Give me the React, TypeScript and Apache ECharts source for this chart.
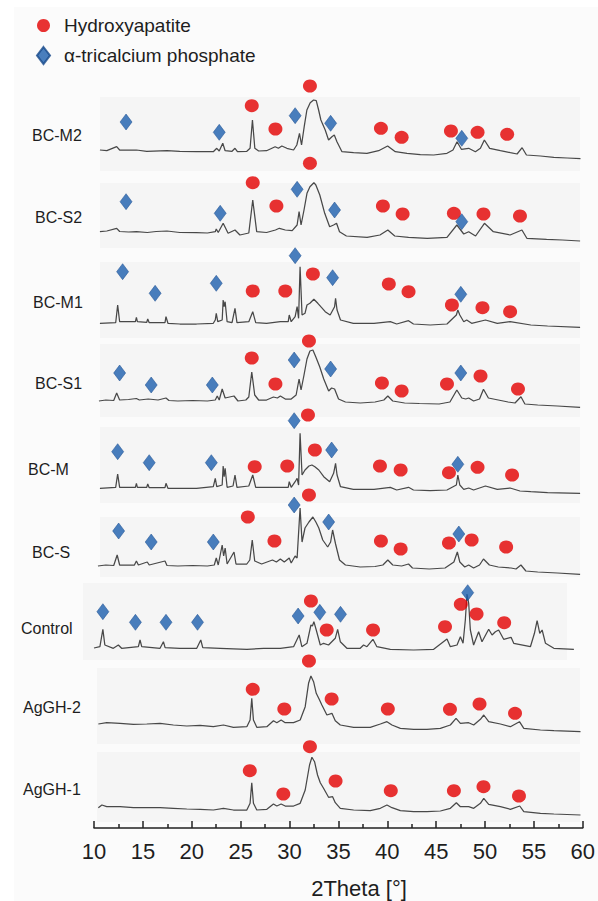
import React, { useEffect, useRef } from "react";
import * as echarts from "echarts";

// ---------- data ----------
const samples = ["BC-M2", "BC-S2", "BC-M1", "BC-S1", "BC-M", "BC-S", "Control", "AgGH-2", "AgGH-1"];
const phaseHA = "Hydroxyapatite";
const phaseTCP = "α-tricalcium phosphate";
const xTitle = "2Theta [°]";

// XRD patterns: [2θ, intensity (a.u.)]
const bcM2 = [[10.6,21],[11.3,20.3],[12.3,24.3],[12.6,21],[14.3,21],[15.35,19.7],[17.4,20.3],[18.7,19.7],[20.4,19.3],[22.1,19.3],[22.45,22.7],[22.7,20],[23.06,27.7],[23.3,20.3],[24.0,19.7],[24.3,22.7],[24.55,19.3],[25.5,19.7],[25.83,22.7],[26.07,51],[26.31,22.7],[26.7,20],[27.5,20.3],[28.37,24.3],[28.7,22.7],[29.05,25],[29.56,22.7],[30.24,21],[30.57,26],[30.84,37.7],[31.05,26],[31.32,44.3],[31.59,61],[31.93,68.3],[32.27,71],[32.54,70.3],[32.78,61],[33.01,51],[33.45,41],[33.79,31],[34.13,34.3],[34.37,36],[34.64,29.3],[35.15,19.3],[36.33,18.3],[37.68,17.7],[38.87,20.3],[39.78,25],[40.56,19.3],[41.75,17.7],[43.1,16.3],[44.45,16],[45.8,17.7],[46.41,21],[46.82,29.3],[47.26,21.7],[48.0,22.7],[48.68,19.3],[49.19,22.7],[49.59,31],[50.13,22.7],[51.22,20.3],[52.23,18.3],[52.91,17],[53.42,23.3],[53.86,16],[55.28,15],[56.64,13.7],[57.99,13],[59.34,12.3]];
const bcS2 = [[10.6,16.3],[11.3,17],[12.3,19.7],[12.6,16.5],[13.5,16],[14.3,16.3],[15.4,15.5],[16.3,16.5],[17.4,17],[18.7,15.5],[20.4,15.3],[21.5,15],[22.3,16.3],[22.4,19],[22.6,15.5],[23.1,24.7],[23.6,14.7],[24.3,18],[24.8,13],[25.7,15],[26.1,48],[26.5,16.3],[27.5,15.5],[28.4,18],[28.8,19.7],[29.4,18],[30.1,17.3],[30.6,23],[30.8,36.3],[31.0,23],[31.3,38],[31.6,54.7],[31.9,61.3],[32.3,65.3],[32.5,63],[32.9,53],[33.4,34.7],[33.9,21.3],[34.3,23],[34.6,24.7],[34.9,16.3],[35.6,12],[37.7,10.7],[39.0,13],[39.8,18],[40.5,12],[41.9,10.7],[43.8,9.7],[45.8,10.7],[46.8,23],[47.5,14],[48.0,16.3],[48.7,12],[49.6,24.7],[50.5,16.3],[52.2,13],[53.4,18],[53.9,9.7],[55.9,8.7],[57.5,8],[59.3,7]];
const bcM1 = [[10.6,14.7],[12.2,15.3],[12.4,33],[12.6,16.3],[14.2,16.3],[14.3,20.7],[14.4,16.3],[15.35,15.7],[15.45,19],[15.6,15.3],[17.2,15.3],[17.3,21.3],[17.5,14.7],[18.7,14],[20.4,14],[22.1,14.7],[22.3,18],[22.4,24.7],[22.55,16.3],[23.0,18],[23.1,38],[23.2,31.3],[23.3,36.3],[23.5,16.3],[24.0,15.3],[24.3,29.7],[24.5,15.3],[25.7,16.3],[26.1,26.3],[26.4,15.3],[27.5,14.7],[28.9,16.3],[29.7,16.3],[29.8,23],[30.0,16.3],[30.4,21.3],[30.6,31.3],[30.75,19.7],[30.9,71.3],[31.1,23],[31.4,24.7],[31.6,33],[31.9,34.7],[32.3,38.7],[32.7,34.7],[33.0,31.3],[33.45,26.3],[33.95,23],[34.4,31.3],[34.5,39.7],[34.65,28],[35.0,18],[36.3,14.7],[38.4,14.7],[40.05,16.3],[40.7,14],[41.9,17.3],[42.4,14],[44.1,13],[45.8,14],[46.75,23],[46.9,28],[47.1,23],[47.5,16.3],[47.8,18],[48.3,14.7],[49.7,18],[50.9,14.7],[52.2,16.3],[54.3,13],[56.0,12],[59.3,10.7]];
const bcS1 = [[10.5,16],[11.2,17],[12.0,16.5],[12.3,24],[12.6,17],[13.5,17.5],[14.3,18.5],[14.6,17],[15.5,18],[16.5,17],[17.3,19],[17.6,16.5],[18.5,16],[20,16.5],[21.5,16],[22.3,17],[22.5,21],[22.7,17],[23.0,28],[23.3,19],[24.2,21],[24.6,16],[25.4,17],[25.7,20],[26.0,45],[26.3,22],[26.7,17],[27.5,17],[28.2,20],[28.6,19],[28.9,21],[29.4,18],[30.0,18],[30.5,22],[30.8,38],[31.0,27],[31.3,42],[31.6,58],[31.9,66],[32.2,67],[32.5,60],[32.9,50],[33.3,38],[33.8,26],[34.1,29],[34.4,28],[34.8,18],[35.5,15],[37,14],[38.5,15],[39.4,17],[39.8,21],[40.3,16],[41.5,14],[43,13.5],[45,13],[46.1,15],[46.8,27],[47.3,19],[47.7,18],[48.0,19],[48.5,16],[49.1,18],[49.5,27.7],[50.0,19],[51,17],[52,15],[52.7,14],[53.3,20.3],[53.7,13],[55,12],[57,11],[59.3,9.7]];
const bcM = [[10.6,14.7],[12.2,15.7],[12.4,29],[12.6,15.7],[14.2,15.7],[14.3,19.7],[14.4,15.7],[15.35,15.7],[15.45,19],[15.6,15.3],[17.2,15.3],[17.3,19.7],[17.5,14.7],[20.4,14.7],[22.1,16.3],[22.3,24.7],[22.45,16.3],[23.0,18],[23.1,37],[23.2,26.3],[23.3,34.7],[23.5,15.7],[24.1,17],[24.3,28],[24.5,15.7],[25.7,17],[26.1,28],[26.4,15.7],[28.9,15.7],[29.7,15.7],[29.8,21.3],[30.0,15.7],[30.4,21.3],[30.6,24.7],[30.75,18],[30.9,69.7],[31.1,28],[31.4,33],[31.8,37],[32.1,38],[32.4,36.3],[32.8,33],[33.3,26.3],[33.9,21.3],[34.3,29.7],[34.5,39.7],[34.65,28],[35.0,16.3],[36.3,13.7],[38.4,13.7],[40.05,15.7],[40.7,13],[41.9,15.7],[42.4,13],[44.1,12.3],[45.8,13],[46.75,18],[46.9,28],[47.1,18],[47.5,13.7],[48.0,15],[48.5,13],[49.7,17],[50.9,13.7],[52.2,15],[53.2,12],[54.3,11.3],[56.0,10.3],[59.3,9.7]];
const bcS = [[10.4,14],[11.2,15],[12.0,14.5],[12.35,25],[12.6,15],[14.1,15],[14.3,19],[14.5,15],[15.4,18],[15.6,15],[17.2,19],[17.4,14.5],[18.5,14],[20,14.5],[21.5,14],[22.2,15],[22.4,22],[22.6,15],[23.0,35],[23.15,24],[23.3,32],[23.5,16],[24.2,28],[24.4,16],[25.5,16],[25.8,20],[26.05,40],[26.3,19],[27,16],[28.1,20],[28.5,18],[28.9,21],[29.3,18],[29.8,22],[30.0,17],[30.4,24],[30.6,22],[30.9,72],[31.1,38],[31.4,52],[31.8,58],[32.2,63],[32.5,58],[32.8,52],[33.2,40],[33.7,33],[34.0,38],[34.2,50],[34.5,36],[34.9,20],[35.5,15],[37,13],[38.5,13.5],[39.3,15],[39.8,20],[40.3,15],[41.2,14],[41.9,16],[42.3,12],[44,11],[45.6,12],[46.5,18],[46.85,28],[47.1,18],[47.6,13],[48.0,15],[48.5,12],[49.1,15],[49.5,21],[50.1,15],[51,13],[52.3,12],[52.8,11],[53.3,15],[53.8,9],[55,8],[57,7],[59.3,5.7]];
const control = [[10.0,12],[10.6,13.3],[10.9,30.7],[11.1,15],[11.96,11.7],[12.47,15],[12.8,11.7],[14.5,13.3],[14.67,20],[14.84,13.3],[16.7,11.7],[17.04,18.3],[17.21,12.3],[18.7,11.7],[20.42,11.7],[20.83,20],[21.03,12.3],[22.8,11.7],[25.5,10.7],[27.2,11.7],[28.9,11.7],[30.24,13.3],[30.81,25],[31.08,13.3],[31.6,16.7],[32.0,35],[32.15,34],[32.3,38.3],[32.54,30],[32.95,15],[33.28,16.7],[33.79,15],[34.47,21.7],[34.71,30.7],[34.98,18.3],[35.65,11.7],[37.0,11.7],[37.34,15],[37.68,13.3],[38.29,20.7],[38.69,13.3],[40.05,10.7],[42.42,10],[44.45,10.7],[45.8,21],[46.14,13.3],[46.82,15],[47.16,23.3],[47.43,16.7],[47.66,40],[47.83,66],[48.0,56.7],[48.17,30],[48.5,15],[49.01,28.3],[49.35,18.3],[50.03,30.7],[50.37,25],[50.71,28.3],[51.04,30],[51.55,20.7],[52.3,22.7],[52.57,16.7],[54.26,13.3],[54.67,26.7],[54.94,39.3],[55.21,26.7],[55.45,30],[55.79,16.7],[56.64,11.7],[58.67,10.7]];
const agGH2 = [[10.44,20],[11.29,21.3],[12.64,20.7],[14.0,19.7],[15.35,20],[16.7,20.7],[18.05,19],[19.41,18],[20.76,18.7],[22.11,17.3],[23.13,19],[24.14,16.7],[25.5,17.3],[25.83,24],[26.0,45.7],[26.17,24],[26.51,16.7],[27.53,17.3],[28.2,23.3],[28.54,21.3],[28.98,24],[29.39,21.3],[30.24,21.3],[30.91,24],[31.42,37.3],[31.76,60.7],[32.0,68],[32.27,62.3],[32.54,50.7],[32.84,44.7],[33.11,39],[33.62,29],[34.13,30.7],[34.47,23.3],[34.98,19],[36.33,16.7],[38.02,16.7],[39.04,20],[39.71,22.3],[40.22,19],[41.07,15.7],[42.42,14.7],[43.77,14.7],[45.13,15.7],[46.14,19],[46.72,25.7],[47.16,20.7],[48.0,21.3],[48.51,19],[49.19,24.7],[49.53,29],[50.03,22.3],[51.22,20],[52.23,17.3],[53.15,22.3],[53.59,15.7],[55.28,14],[56.64,13.3],[59.34,12.3]];
const agGH1 = [[10.44,14.3],[10.8,17],[11.29,15.3],[12.64,15.3],[14.0,14.3],[15.35,14.3],[16.7,14.3],[18.05,13.7],[19.41,13],[20.76,12.7],[22.11,12],[23.13,13.7],[24.14,12],[25.5,12],[25.83,18.7],[26.0,39.3],[26.17,18.7],[26.51,12],[27.53,12.7],[28.2,18],[28.54,16],[28.98,18],[29.39,16],[30.24,16],[30.91,18.7],[31.42,32],[31.86,57],[32.1,64.7],[32.37,60.3],[32.67,47],[32.95,39.3],[33.28,33.7],[33.79,24.7],[34.2,25.3],[34.47,19.3],[34.98,13.7],[36.33,12],[38.02,11.3],[39.04,13.7],[39.71,17],[40.22,14.3],[41.07,11.3],[42.42,10.3],[43.77,10.3],[45.13,11],[46.14,13.7],[46.75,19.3],[47.16,15.3],[48.0,15.3],[48.51,13.7],[49.19,18.7],[49.53,23.7],[50.03,17.7],[51.22,15.3],[52.23,12.7],[53.18,16],[53.59,10.3],[55.28,8.7],[56.64,8],[59.34,7]];

// phase markers: [2θ, intensity]
const haM2 = [[26.0,65.3],[28.4,42],[31.9,85],[39.1,42.7],[41.2,33.7],[46.2,40],[48.9,38.7],[51.9,36.7]];
const tcpM2 = [[13.25,49],[22.7,38.7],[30.4,55.3],[34.0,47.7],[47.3,32.7]];
const haS2 = [[26.1,65.3],[28.5,42],[31.9,84.7],[39.3,42],[41.3,34],[46.5,34.7],[49.5,34],[53.2,32]];
const tcpS2 = [[13.25,46.3],[22.8,34.7],[30.6,58.7],[34.4,38],[47.3,26.3]];
const haM1 = [[26.1,47],[29.4,47],[32.2,64],[39.9,54],[41.9,46.3],[46.3,33],[49.4,30.3],[52.2,26.3]];
const tcpM1 = [[12.9,66.3],[16.2,44.7],[22.4,54.7],[30.4,82.3],[34.2,60.3],[47.2,43.7]];
const haS1 = [[26.0,59],[28.4,33],[31.8,76],[39.2,34],[41.2,26],[45.8,33],[49.2,41],[53.0,28]];
const tcpS1 = [[12.6,44],[15.8,32],[22.0,32],[30.3,57],[34.0,48],[47.2,44]];
const haM = [[26.3,36.3],[29.6,37],[31.7,88],[32.4,53],[39.0,37],[41.1,33],[46.0,30.3],[48.9,35.7],[52.4,28]];
const tcpM = [[12.4,51.3],[15.6,40.3],[21.9,40.3],[30.3,82.3],[34.1,53],[46.9,38.7]];
const haS = [[25.6,63],[28.3,39],[31.8,85],[39.1,39],[41.1,31],[46.0,37],[48.3,40],[51.8,33]];
const tcpS = [[12.5,49],[15.8,38],[22.1,38],[30.3,75],[33.8,58],[47.0,46]];
const haC = [[32.0,59],[33.6,30],[38.3,30],[45.6,33.3],[47.2,55.7],[48.8,46],[51.6,37.3]];
const tcpC = [[10.9,48.3],[14.2,37.7],[17.3,37.7],[20.5,37.7],[30.7,44],[32.9,47.7],[35.0,45.7],[47.9,67.3]];
const haG2 = [[26.1,54.7],[29.3,35],[31.8,83],[34.1,45],[39.8,35],[46.1,34.7],[49.1,40],[52.7,30.7]];
const tcpG2: number[][] = [];
const haG1 = [[25.8,51.3],[29.2,28],[31.9,75.3],[34.5,41],[40.1,31.3],[46.5,31.3],[49.5,35.3],[53.1,26]];
const tcpG1: number[][] = [];

const patterns = [bcM2, bcS2, bcM1, bcS1, bcM, bcS, control, agGH2, agGH1];
const haMarks = [haM2, haS2, haM1, haS1, haM, haS, haC, haG2, haG1];
const tcpMarks = [tcpM2, tcpS2, tcpM1, tcpS1, tcpM, tcpS, tcpC, tcpG2, tcpG1];

// ---------- layout ----------
const W = 598;
const H = 901;
const PLOT_L = 94;
const PLOT_R = 587;
const baseY = [171, 248, 338, 417, 503, 580, 660, 744, 822];
const panelRects = [
  [100, 97, 480, 74], [100, 183, 480, 65], [100, 262, 480, 76], [100, 344, 480, 73],
  [100, 427, 480, 76], [100, 517, 480, 60], [83, 583, 484, 77], [97, 668, 483, 76], [97, 752, 483, 70],
];
const labelPos = [
  [32, 135], [35, 217], [33, 302], [35, 383], [28, 469], [32, 552], [21, 628], [23, 707], [23, 789],
];

const FONT = "'Liberation Sans', Arial, Helvetica, sans-serif";
const RED = "#e30000";
const BLUE = "#1d5fae";
const LINE = "#484848";
const TEXT = "#1e1e1e";

export default function App() {
  const ref = useRef<HTMLDivElement>(null);
  useEffect(() => {
    if (!ref.current) return;
    const chart = echarts.init(ref.current, null, { renderer: "svg" });
    const grids: any[] = [];
    const xAxes: any[] = [];
    const yAxes: any[] = [];
    const series: any[] = [];
    patterns.forEach((p, i) => {
      grids.push({ left: PLOT_L, right: W - PLOT_R, top: baseY[i] - 100, height: 100, show: false });
      xAxes.push({ gridIndex: i, type: "value", min: 10, max: 60, show: false });
      yAxes.push({ gridIndex: i, type: "value", min: 0, max: 100, show: false });
      series.push({
        type: "line", name: samples[i], xAxisIndex: i, yAxisIndex: i, data: p,
        showSymbol: false, symbol: "none", clip: false, z: 2,
        lineStyle: { color: LINE, width: 1.25 }, silent: true,
      });
      series.push({
        type: "scatter", name: phaseHA, xAxisIndex: i, yAxisIndex: i, data: haMarks[i],
        symbol: "circle", symbolSize: [14, 13], clip: false, z: 4,
        itemStyle: { color: RED },
      });
      series.push({
        type: "scatter", name: phaseTCP, xAxisIndex: i, yAxisIndex: i, data: tcpMarks[i],
        symbol: "diamond", symbolSize: [12, 16], clip: false, z: 5,
        itemStyle: { color: BLUE, borderColor: "#16488a", borderWidth: 0.6 },
      });
    });
    const ai = patterns.length;
    grids.push({ left: PLOT_L, right: W - PLOT_R, top: 818, height: 10, show: false });
    xAxes.push({
      gridIndex: ai, type: "value", min: 10, max: 60, interval: 5,
      axisLine: { show: true, lineStyle: { color: "#222", width: 1.5 } },
      axisTick: { show: true, inside: true, length: 7, lineStyle: { color: "#222", width: 1.5 } },
      minorTick: { show: true, splitNumber: 2, length: 4, lineStyle: { color: "#222", width: 1.5 } },
      splitLine: { show: false },
      axisLabel: { fontSize: 22, color: TEXT, fontFamily: FONT, margin: 12 },
    });
    yAxes.push({ gridIndex: ai, type: "value", min: 0, max: 1, show: false });

    const graphics: any[] = [
      { type: "rect", shape: { x: 14, y: 7, width: W - 14, height: H - 7 }, style: { fill: "#fbfbfb" }, z: -10, silent: true },
    ];
    panelRects.forEach((r) => {
      graphics.push({ type: "rect", shape: { x: r[0], y: r[1], width: r[2], height: r[3] }, style: { fill: "#f5f5f5" }, z: -5, silent: true });
    });
    samples.forEach((s, i) => {
      graphics.push({
        type: "text", x: labelPos[i][0], y: labelPos[i][1],
        style: { text: s, fontSize: 16, fontFamily: FONT, fill: TEXT, verticalAlign: "middle", align: "left" },
      });
    });
    graphics.push({
      type: "text", x: 359, y: 888,
      style: { text: xTitle, fontSize: 22, fontFamily: FONT, fill: TEXT, align: "center", verticalAlign: "middle" },
    });

    chart.setOption({
      animation: false,
      backgroundColor: "#ffffff",
      textStyle: { fontFamily: FONT },
      legend: {
        data: [phaseHA, phaseTCP], orient: "vertical", left: 36, top: 16, padding: 0,
        itemWidth: 13, itemHeight: 17, itemGap: 11,
        textStyle: { fontSize: 19, color: TEXT, fontFamily: FONT, padding: [0, 0, 0, 9] },
        selectedMode: false,
      },
      grid: grids,
      xAxis: xAxes,
      yAxis: yAxes,
      series,
      graphic: graphics,
    });
    return () => chart.dispose();
  }, []);
  return <div ref={ref} style={{ position: "absolute", left: 0, top: 0, width: W, height: H }} />;
}
